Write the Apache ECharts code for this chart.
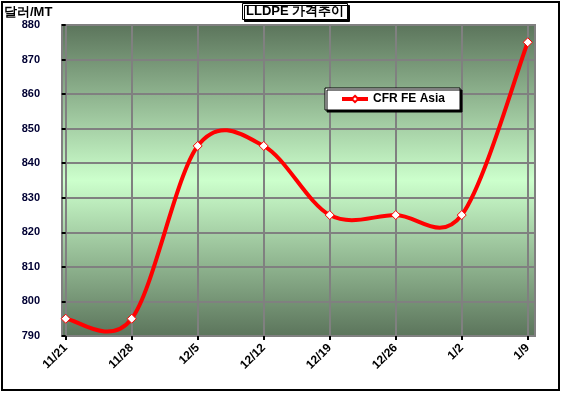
<!DOCTYPE html>
<html><head><meta charset="utf-8">
<script src="https://cdn.jsdelivr.net/npm/echarts@6/dist/echarts.min.js"></script>
<style>html,body{margin:0;padding:0;background:#fff}#c{width:563px;height:393px}</style>
</head><body><div id="c"></div>
<script>
var categories = ['11/21','11/28','12/5','12/12','12/19','12/26','1/2','1/9'];
var prices = [795, 795, 845, 845, 825, 825, 825, 875];
var yTicks = [790, 800, 810, 820, 830, 840, 850, 860, 870, 880];
var seriesName = 'CFR FE Asia';
var titleText = 'LLDPE 가격추이';
var unitText = '달러/MT';

var chart = echarts.init(document.getElementById('c'));
var idx = categories.map(function(_, i){ return i; });
var pts = prices.map(function(p, i){ return [i, p]; });

// Excel-like Catmull-Rom smoothing, drawn segment by segment in data space via api.coord
function tangent(i){
  var a = pts[Math.max(0, i - 1)], b = pts[Math.min(pts.length - 1, i + 1)];
  return [(b[0] - a[0]) / 6, (b[1] - a[1]) / 6];
}
function renderSeg(params, api){
  var i = params.dataIndex;
  if (i >= pts.length - 1) return null;
  var p0 = pts[i], p1 = pts[i + 1];
  var t0 = tangent(i), t1 = tangent(i + 1);
  var a = api.coord(p0), b = api.coord(p1);
  var c1 = api.coord([p0[0] + t0[0], p0[1] + t0[1]]);
  var c2 = api.coord([p1[0] - t1[0], p1[1] - t1[1]]);
  return {
    type: 'bezierCurve',
    shape: { x1: a[0], y1: a[1], cpx1: c1[0], cpy1: c1[1], cpx2: c2[0], cpy2: c2[1], x2: b[0], y2: b[1] },
    style: { stroke: '#ff0000', lineWidth: 4, fill: null, lineCap: 'round' }
  };
}

chart.setOption({
  animation: false,
  title: {
    text: titleText, left: 242, top: 3,
    padding: [2, 4, 2, 4],
    backgroundColor: '#fff', borderColor: '#000', borderWidth: 1,
    shadowColor: '#000', shadowOffsetX: 2, shadowOffsetY: 2, shadowBlur: 0,
    textStyle: { fontFamily: 'Liberation Sans, Arial', fontWeight: 'bold', fontSize: 13, color: '#000' }
  },
  legend: {
    left: 325, top: 88, padding: [5, 15, 5, 15],
    backgroundColor: '#fff', borderColor: '#000', borderWidth: 1,
    shadowColor: '#000', shadowOffsetX: 2, shadowOffsetY: 2, shadowBlur: 0,
    itemWidth: 26, itemHeight: 8,
    textStyle: { fontFamily: 'Liberation Sans, Arial', fontWeight: 'bold', fontSize: 12, color: '#000' },
    data: [{ name: seriesName, lineStyle: { color: '#ff0000', width: 4, opacity: 1 } }]
  },
  graphic: [
    { type: 'rect', shape: { x: 2, y: 2, width: 557, height: 388 }, style: { fill: null, stroke: '#000', lineWidth: 2 }, z: 100 },
    { type: 'text', left: 4, top: 6, style: { text: unitText, font: 'bold 13px "Liberation Sans", Arial', fill: '#000' } }
  ],
  grid: {
    left: 62, right: 28, top: 25, bottom: 57, show: true,
    borderColor: '#808080', borderWidth: 2,
    backgroundColor: new echarts.graphic.LinearGradient(0, 0, 0, 1, [
      { offset: 0, color: '#5b745b' },
      { offset: 0.5, color: '#ccffcc' },
      { offset: 1, color: '#5b745b' }
    ])
  },
  xAxis: {
    type: 'value', min: -0.056, max: 7.11,
    axisLine: { show: true, lineStyle: { color: '#808080', width: 2 } },
    axisTick: { show: true, customValues: idx, length: 4, lineStyle: { color: '#000', width: 2 } },
    axisLabel: {
      customValues: idx, rotate: 45, margin: 10,
      formatter: function(v){ return categories[Math.round(v)]; },
      fontFamily: 'Liberation Sans, Arial', fontWeight: 'bold', fontSize: 12, color: '#000'
    },
    splitLine: { show: true, lineStyle: { color: '#808080', width: 2 } }
  },
  yAxis: {
    type: 'value', min: yTicks[0], max: yTicks[yTicks.length - 1], interval: 10,
    axisLine: { show: true, lineStyle: { color: '#808080', width: 2 } },
    axisTick: { show: true, length: 4, lineStyle: { color: '#000', width: 2 } },
    axisLabel: { fontFamily: 'Liberation Sans, Arial', fontWeight: 'bold', fontSize: 11, color: '#000033', margin: 22 },
    splitLine: { show: true, lineStyle: { color: '#808080', width: 2 } }
  },
  series: [{
    name: 'curve', type: 'custom', renderItem: renderSeg, data: pts, z: 4, silent: true
  }, {
    name: seriesName, type: 'line',
    data: pts,
    symbol: 'diamond', symbolSize: 9,
    lineStyle: { color: '#ff0000', width: 4, opacity: 0 },
    itemStyle: { color: '#fff', borderColor: '#ff0000', borderWidth: 1 },
    z: 5
  }]
});
</script></body></html>
